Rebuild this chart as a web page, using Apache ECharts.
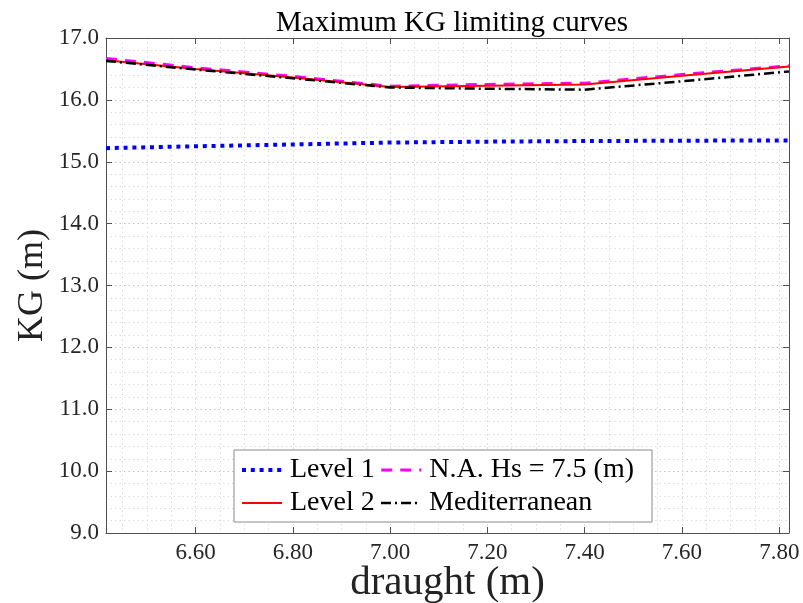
<!DOCTYPE html>
<html><head><meta charset="utf-8">
<script src="https://cdn.jsdelivr.net/npm/echarts@6/dist/echarts.min.js"></script>
<style>html,body{margin:0;padding:0;background:#fff}#c{width:803px;height:603px}</style>
</head><body><div id="c"></div>
<script>
const draught = [6.416, 6.6, 6.8, 7.0, 7.2, 7.4, 7.6, 7.82];
const level1 = [15.22, 15.25, 15.28, 15.31, 15.325, 15.335, 15.34, 15.345];
const level2 = [16.64, 16.50, 16.36, 16.21, 16.23, 16.25, 16.39, 16.54];
const northAtlantic = [16.67, 16.52, 16.38, 16.22, 16.25, 16.27, 16.41, 16.55];
const mediterranean = [16.63, 16.49, 16.35, 16.20, 16.18, 16.165, 16.30, 16.46];
const legendOrder = ['Level 1', 'N.A. Hs = 7.5 (m)', 'Level 2', 'Mediterranean'];
const titleText = 'Maximum KG limiting curves';
const xName = 'draught (m)';
const yName = 'KG (m)';
const xMin = 6.416, xMax = 7.82, yMin = 9, yMax = 17;

const FONT = '"Liberation Serif", "Times New Roman", serif';
const pair = arr => draught.map((x, i) => [x, arr[i]]);
const axisCol = '#505050';
const majorGrid = {show: true, lineStyle: {color: '#c4c4c4', type: [1.5, 3], width: 1}};
const minorGrid = {show: true, lineStyle: {color: '#dedede', type: [1.5, 3], width: 1}};

const styles = {
  'Level 1': {color: '#0000ff', width: 4, type: [4, 4.8], cap: 'butt'},
  'N.A. Hs = 7.5 (m)': {color: '#ff00ff', width: 3, type: [11, 8], cap: 'butt'},
  'Level 2': {color: '#ff0000', width: 2, type: 'solid'},
  'Mediterranean': {color: '#000000', width: 2.5, type: [10, 4, 2, 4], cap: 'butt'}
};

const chart = echarts.init(document.getElementById('c'), null, {renderer: 'canvas'});
chart.setOption({
  animation: false,
  backgroundColor: '#fff',
  title: {
    text: titleText, left: 447, textAlign: 'center', top: 4,
    textStyle: {fontFamily: FONT, fontSize: 29, fontWeight: 'normal', color: '#000'}
  },
  grid: {left: 106, right: 14, top: 38, bottom: 70, containLabel: false, outerBoundsMode: 'none'},
  legend: {
    data: legendOrder.map(n => ({name: n, lineStyle: styles[n]})),
    orient: 'horizontal', left: 234, top: 450, width: 430,
    padding: [6, 18, 5, 6], itemGap: 5, itemWidth: 40, itemHeight: 14,
    backgroundColor: '#fff', borderColor: '#8a8a8a', borderWidth: 1, borderRadius: 0,
    itemStyle: {opacity: 0},
    textStyle: {fontFamily: FONT, fontSize: 28, color: '#000', padding: [0, 10, 0, 3]}
  },
  xAxis: [
    {
      type: 'value', position: 'bottom', min: xMin, max: xMax, splitNumber: 7,
      name: xName, nameLocation: 'middle', nameGap: 30, nameMoveOverlap: false,
      nameTextStyle: {fontFamily: FONT, fontSize: 41, color: '#222'},
      axisLine: {show: true, lineStyle: {color: axisCol, width: 1}},
      axisTick: {show: true, inside: true, length: 6, lineStyle: {color: axisCol}},
      axisLabel: {show: true, margin: 8, fontFamily: FONT, fontSize: 23, color: '#262626',
        showMinLabel: false, showMaxLabel: false, formatter: v => v.toFixed(2)},
      splitLine: majorGrid
    },
    {
      type: 'value', position: 'top', min: xMin, max: xMax, splitNumber: 7,
      axisLine: {show: true, lineStyle: {color: axisCol, width: 1}},
      axisTick: {show: true, inside: true, length: 6, lineStyle: {color: axisCol}},
      axisLabel: {show: false}, splitLine: {show: false}
    },
    {
      type: 'value', position: 'bottom', min: xMin, max: xMax, splitNumber: 28,
      axisLine: {show: false}, axisTick: {show: false}, axisLabel: {show: false},
      splitLine: minorGrid
    }
  ],
  yAxis: [
    {
      type: 'value', position: 'left', min: yMin, max: yMax, interval: 1,
      name: yName, nameLocation: 'middle', nameGap: 55, nameRotate: 90, nameMoveOverlap: false,
      nameTextStyle: {fontFamily: FONT, fontSize: 36, color: '#222'},
      axisLine: {show: true, lineStyle: {color: axisCol, width: 1}},
      axisTick: {show: true, inside: true, length: 6, lineStyle: {color: axisCol}},
      axisLabel: {show: true, margin: 7, fontFamily: FONT, fontSize: 23, color: '#262626',
        formatter: v => v.toFixed(1)},
      splitLine: majorGrid,
      minorTick: {show: false, splitNumber: 5},
      minorSplitLine: minorGrid
    },
    {
      type: 'value', position: 'right', min: yMin, max: yMax, interval: 1,
      axisLine: {show: true, lineStyle: {color: axisCol, width: 1}},
      axisTick: {show: true, inside: true, length: 6, lineStyle: {color: axisCol}},
      axisLabel: {show: false}, splitLine: {show: false}
    }
  ],
  series: [
    {name: 'Level 1', type: 'line', data: pair(level1), symbol: 'none', z: 3,
      lineStyle: styles['Level 1'], itemStyle: {color: '#0000ff'}},
    {name: 'N.A. Hs = 7.5 (m)', type: 'line', data: pair(northAtlantic), symbol: 'none', z: 4,
      lineStyle: styles['N.A. Hs = 7.5 (m)'], itemStyle: {color: '#ff00ff'}},
    {name: 'Level 2', type: 'line', data: pair(level2), symbol: 'none', z: 5,
      lineStyle: styles['Level 2'], itemStyle: {color: '#ff0000'}},
    {name: 'Mediterranean', type: 'line', data: pair(mediterranean), symbol: 'none', z: 6,
      lineStyle: styles['Mediterranean'], itemStyle: {color: '#000000'}}
  ]
});
</script>
</body></html>
